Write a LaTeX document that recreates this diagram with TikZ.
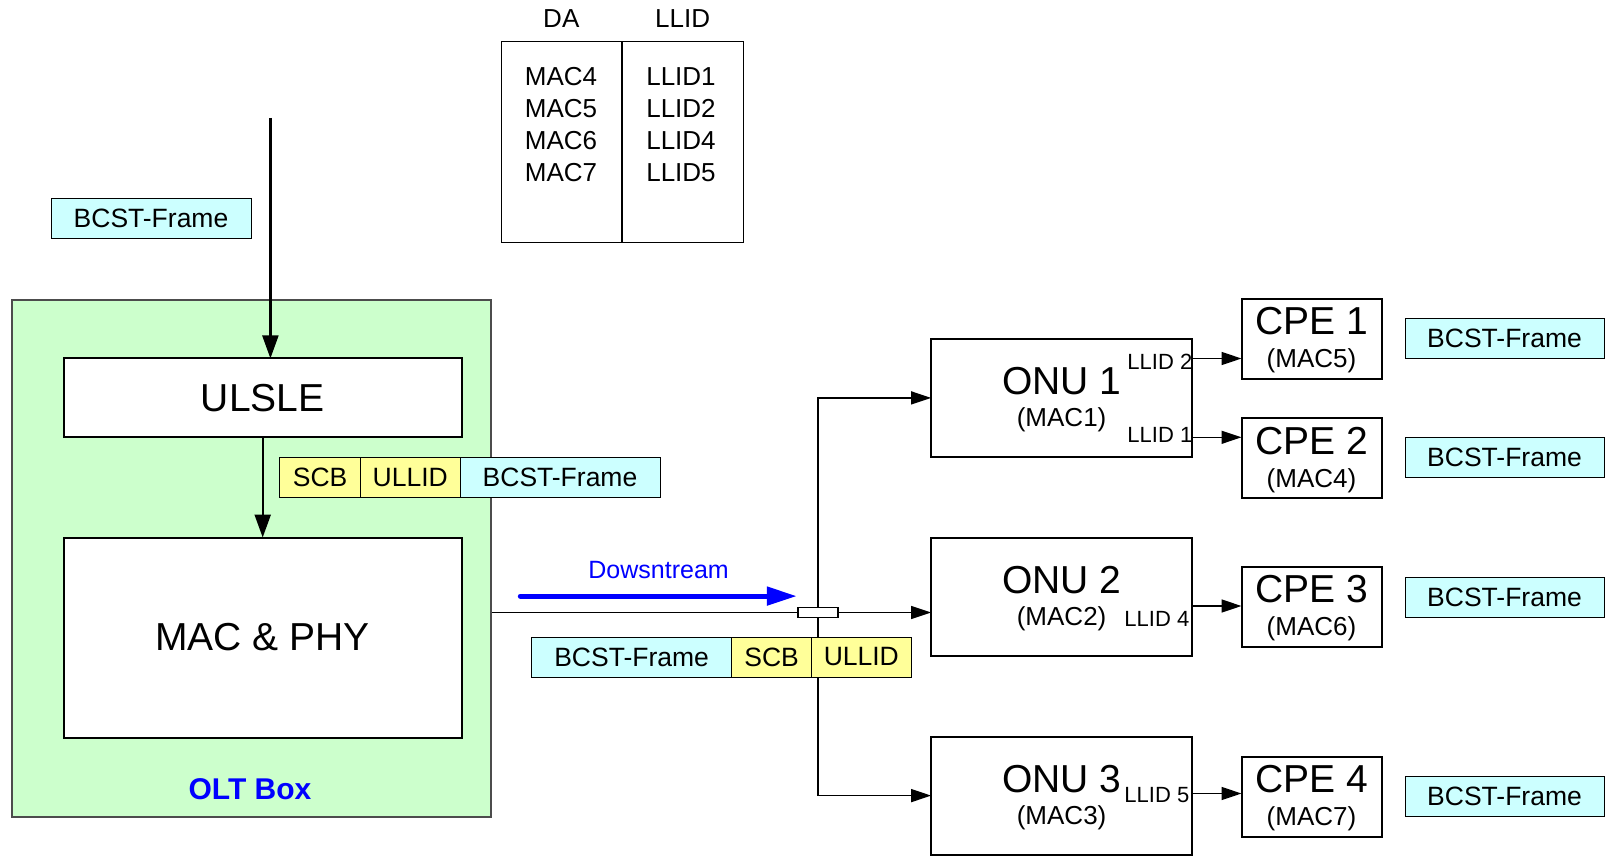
\documentclass[tikz,border=0pt]{standalone}
\usepackage{fontspec}
\setmainfont{Liberation Sans}
\usetikzlibrary{arrows.meta,positioning}
\definecolor{oltgreen}{RGB}{204,255,204}
\definecolor{framecyan}{RGB}{204,255,255}
\definecolor{fieldyellow}{RGB}{255,255,153}

\begin{document}
\begin{tikzpicture}[x=1pt,y=-1pt,>={Triangle[length=20pt,width=13pt]},line width=1.5pt,
                    box/.style={draw,fill=white,line width=2pt,inner sep=0pt,outer sep=0pt},
                    tag/.style={draw,line width=1pt,inner sep=0pt,outer sep=0pt,
                                minimum height=40pt,font=\fontsize{26.5}{30}\selectfont},
                    frame tag/.style={tag,fill=framecyan,minimum width=200pt},
                    field tag/.style={tag,fill=fieldyellow},
                    inner arrow/.style={->,line width=2.3pt,>={Triangle[length=23pt,width=16pt]}},
                    big/.style={font=\fontsize{39}{44}\selectfont},
                    mid/.style={font=\fontsize{26}{32}\selectfont},
                    small/.style={font=\fontsize{22}{26}\selectfont}]

  \useasboundingbox (0,0) rectangle (1606,856);

  \node[draw=black!70,line width=1.5pt,fill=oltgreen,inner sep=0pt,minimum width=479pt,
        minimum height=517pt,anchor=north west] (olt) at (11.3,299) {};
  \node[text=blue,font=\fontsize{30}{36}\selectfont\bfseries] (oltname) at (250,789) {OLT Box};

  \node[box,big,minimum width=398pt,minimum height=79pt] (ulsle) at (262.7,397.9) {ULSLE};
  \node[box,big,minimum width=398pt,minimum height=200pt] (macphy) at (262.7,637.5) {MAC \& PHY};

  \coordinate (feed) at (270.4,117.8);
  \draw[inner arrow] (feed) -- (feed |- ulsle.north);
  \draw[inner arrow] (ulsle) -- (macphy);

  \node[frame tag] (bcst0) at (151,218.6) {BCST-Frame};

  \node[field tag,minimum width=81pt,anchor=west] (scb1) at (279.6,477.8) {SCB};
  \node[field tag,minimum width=99.4pt,right=0pt of scb1] (ullid1) {ULLID};
  \node[frame tag,right=0pt of ullid1] (bcst1) {BCST-Frame};

  \node[draw,line width=1pt,inner sep=0pt,minimum width=120pt,minimum height=200.7pt,
        anchor=north west] (dacol) at (500.8,41) {};
  \node[draw,line width=1pt,inner sep=0pt,minimum width=120.8pt,minimum height=200.7pt,
        right=0pt of dacol] (llidcol) {};
  \node[mid] (dahead) at (dacol.north |- 0,18.4) {DA};
  \node[mid] (llidhead) at (llidcol.north |- 0,18.4) {LLID};
  \node[mid,align=center] (dalist) at (561,125) {MAC4\\MAC5\\MAC6\\MAC7};
  \node[mid,align=center] (llidlist) at (681,125) {LLID1\\LLID2\\LLID4\\LLID5};

  \node[mid,text=blue,font=\fontsize{25}{30}\selectfont] (down) at (658.6,570.5) {Dowsntream};
  \coordinate (ds0) at (520.3,596.1);
  \coordinate (ds1) at (796.8,596.1);
  \draw[->,blue,line width=5pt,line cap=round,>={Triangle[length=30pt,width=18pt]}] (ds0) -- (ds1);

  \foreach \n/\y/\m in {1/397.9/1, 2/597.1/2, 3/795.6/3} {
    \node[box,minimum width=261pt,minimum height=117.8pt] (onu\n) at (1061.6,\y) {};
    \node[big] (onu\n name) at (1061.6,\y-17) {ONU \n};
    \node[mid] (onu\n mac) at (1061.6,\y+22) {(MAC\m)};
  }

  \foreach \n/\y/\m/\t in {1/339/5/338.5, 2/458.4/4/457.3, 3/606.9/6/597.6, 4/796.9/7/796.3} {
    \node[box,minimum width=140pt,minimum height=80pt] (cpe\n) at (1311.5,\y) {};
    \node[big] (cpe\n name) at (1311.5,\y-17.5) {CPE \n};
    \node[mid] (cpe\n mac) at (1311.5,\y+22) {(MAC\m)};
    \node[frame tag,minimum width=199pt] (bcstcpe\n) at (1504.5,\t) {BCST-Frame};
  }

  \node[draw,fill=white,inner sep=0pt,minimum width=40pt,minimum height=10.3pt] (split) at (817.9,612.5) {};
  \coordinate (oltout) at (olt.east |- split);
  \draw (oltout) -- (split);
  \draw[->] (split) -- (split -| onu2.west);
  \draw[->] (split) |- (onu1);
  \draw[->] (split) |- (onu3);

  \foreach \l/\o/\c/\ya/\yt/\xt in {2/1/1/358.5/362/1193, 1/1/2/437.3/435/1193,
                                   4/2/3/606/618.7/1190, 5/3/4/793.5/795.5/1190} {
    \coordinate (llid\l) at (onu\o.east |- 0,\ya);
    \draw[->] (llid\l) -- (llid\l -| cpe\c.west);
    \node[small,anchor=east,inner sep=0pt] (llid\l name) at (\xt,\yt) {LLID \l};
  }

  \node[frame tag,anchor=west] (bcst2) at (531.6,657) {BCST-Frame};
  \node[field tag,minimum width=80pt,right=0pt of bcst2] (scb2) {SCB};
  \node[field tag,minimum width=99.4pt,right=0pt of scb2] (ullid2) {ULLID};
\end{tikzpicture}
\end{document}
